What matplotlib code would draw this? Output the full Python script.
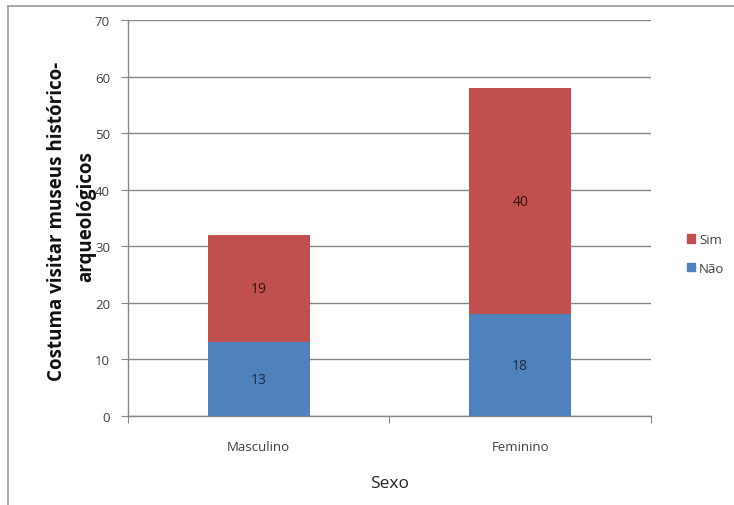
import matplotlib
matplotlib.use("Agg")
import matplotlib.pyplot as plt
from matplotlib.lines import Line2D
from matplotlib.patches import Rectangle
import numpy as np

categories = ["Masculino", "Feminino"]
nao = [13, 18]
sim = [19, 40]
yticks = [0, 10, 20, 30, 40, 50, 60, 70]

BLUE = "#4F81BD"
RED = "#C0504D"
GRID = "#878787"
FONT = ["Open Sans", "DejaVu Sans"]

plt.rcParams["font.family"] = FONT

fig = plt.figure(figsize=(7.34, 5.06), dpi=100)
ax = fig.add_axes([0.1744, 0.1759, 0.7125, 0.7826])

x = np.arange(len(categories))
w = 0.39
b1 = ax.bar(x, nao, w, color=BLUE, label="Não", zorder=3)
b2 = ax.bar(x, sim, w, bottom=nao, color=RED, label="Sim", zorder=3)

for rect, v in zip(b1, nao):
    ax.text(rect.get_x() + rect.get_width() / 2, rect.get_y() + v / 2, str(v),
            ha="center", va="center", fontsize=10, color="#1F2A44", zorder=4)
for rect, v in zip(b2, sim):
    ax.text(rect.get_x() + rect.get_width() / 2, rect.get_y() + v / 2, str(v),
            ha="center", va="center", fontsize=10, color="#3A1010", zorder=4)

ax.set_xlim(-0.5, 1.5)
ax.set_ylim(0, 70)
ax.set_yticks(yticks)
ax.yaxis.grid(True, color=GRID, linewidth=1.0, zorder=0)
ax.set_axisbelow(True)

# category ticks sit at the boundaries between groups
ax.set_xticks([-0.5, 0.5, 1.5])
ax.set_xticklabels([])
ax.set_xticks(x, minor=True)
ax.set_xticklabels(categories, minor=True)
ax.tick_params(axis="x", which="minor", length=0, pad=17, labelsize=9.5, labelcolor="#404040")
ax.tick_params(axis="x", which="major", length=5, color=GRID, direction="out")
ax.tick_params(axis="y", length=5, color=GRID, direction="out", labelsize=9.5,
               labelcolor="#404040", pad=8)

for s in ["top", "right"]:
    ax.spines[s].set_visible(False)
for s in ["left", "bottom"]:
    ax.spines[s].set_color(GRID)
    ax.spines[s].set_linewidth(1.0)

ax.set_xlabel("Sexo", fontsize=12.5, labelpad=16, color="#222222")

# two-line vertical axis title
fig.text(57 / 734, 1 - 221 / 506, "Costuma visitar museus histórico-",
         rotation=90, ha="center", va="center", fontsize=13.5, fontweight="bold",
         color="#111111")
fig.text(86 / 734, 1 - 217 / 506, "arqueológicos",
         rotation=90, ha="center", va="center", fontsize=13.5, fontweight="bold",
         color="#111111")

# legend
handles = [Rectangle((0, 0), 1, 1, color=RED), Rectangle((0, 0), 1, 1, color=BLUE)]
fig.legend(handles, ["Sim", "Não"], loc="center left",
           bbox_to_anchor=(682 / 734, 1 - 255 / 506), frameon=False,
           fontsize=9.5, handlelength=0.6, handleheight=0.6, handletextpad=0.3,
           labelspacing=1.2, labelcolor="#404040", borderaxespad=0)

# chart-area frame
fig.add_artist(Line2D([8 / 734, 8 / 734], [0, 1 - 7 / 506], transform=fig.transFigure,
                      color="#9A9A9A", linewidth=1.2))
fig.add_artist(Line2D([8 / 734, 1], [1 - 7 / 506, 1 - 7 / 506], transform=fig.transFigure,
                      color="#9A9A9A", linewidth=1.2))

fig.savefig("out.png", dpi=100)
